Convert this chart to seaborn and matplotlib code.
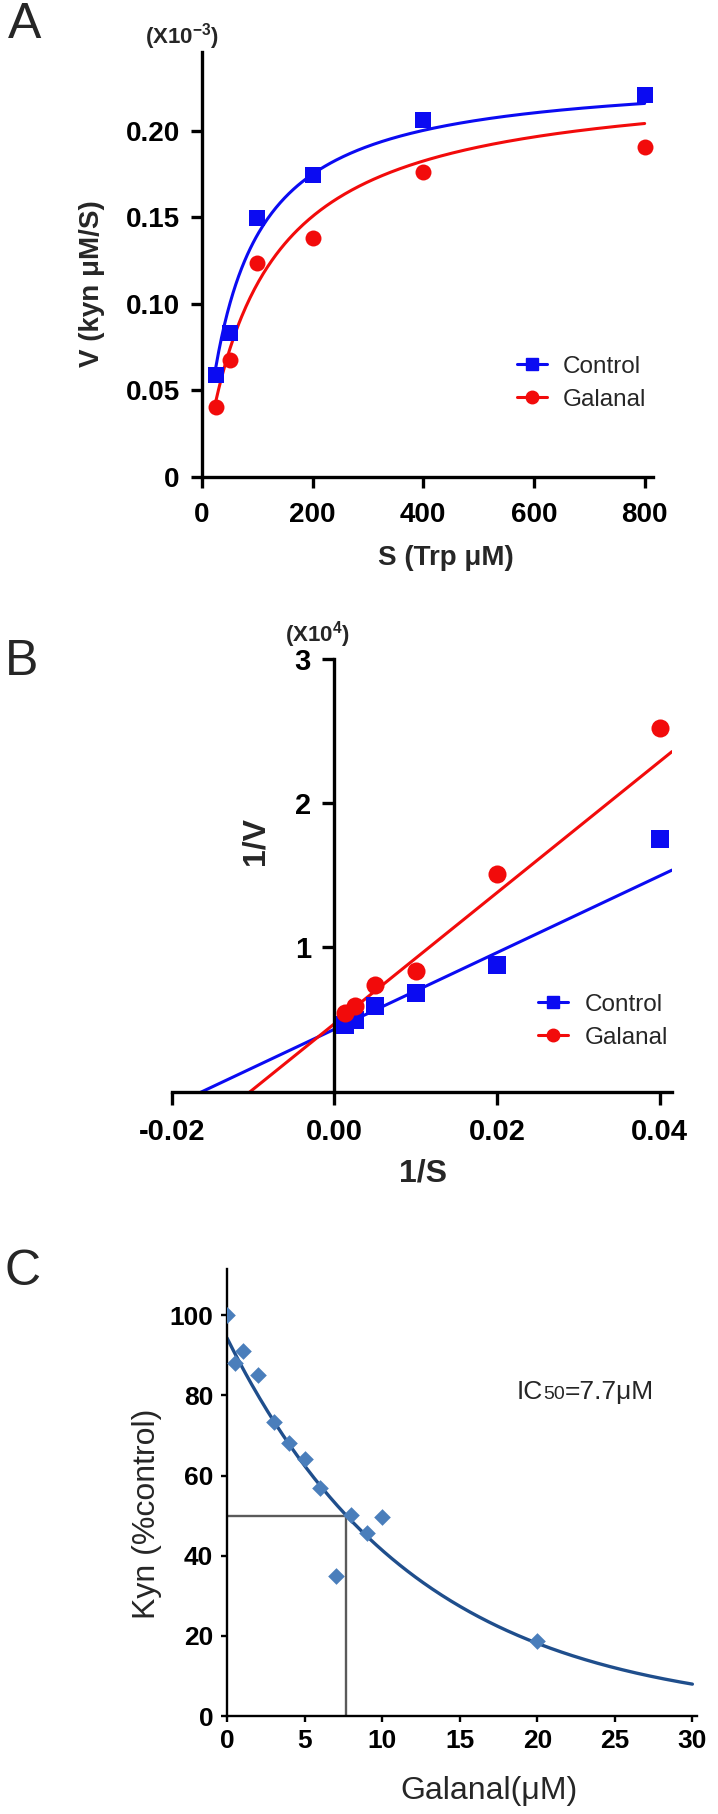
import numpy as np
import pandas as pd
import matplotlib
matplotlib.use("Agg")
import matplotlib.pyplot as plt
import seaborn as sns
from matplotlib.lines import Line2D
from matplotlib.offsetbox import TextArea, HPacker, AnchoredOffsetbox

# ---- panel A: V vs S (Michaelis-Menten) ----
trp_um = [25, 50, 100, 200, 400, 800]
v_control = [0.0587, 0.083, 0.1495, 0.1743, 0.2066, 0.2208]
v_galanal = [0.0403, 0.0675, 0.1238, 0.1384, 0.1765, 0.1905]
vmax_control, km_control = 0.2342, 67.5
vmax_galanal, km_galanal = 0.2319, 107.8
a_xticks = [0, 200, 400, 600, 800]
a_yticks = [0, 0.05, 0.10, 0.15, 0.20]
a_yticklabels = ['0', '0.05', '0.10', '0.15', '0.20']

# ---- panel B: Lineweaver-Burk ----
inv_s = [0.04, 0.02, 0.01, 0.005, 0.0025, 0.00125]
inv_v_control = [1.75, 0.878, 0.683, 0.593, 0.495, 0.459]
inv_v_galanal = [2.52, 1.507, 0.837, 0.739, 0.593, 0.544]
lb_control = (0.4323, 26.57)   # intercept, slope
lb_galanal = (0.4703, 45.44)
b_xticks = [-0.02, 0.0, 0.02, 0.04]
b_xticklabels = ['-0.02', '0.00', '0.02', '0.04']
b_yticks = [1, 2, 3]

# ---- panel C: dose response ----
galanal_um = [0, 0.5, 1, 2, 3, 4, 5, 6, 7, 8, 9, 10, 20]
kyn_pct = [100, 88.0, 91.0, 85.1, 73.4, 68.0, 64.2, 56.9, 35.0, 50.2, 45.7, 49.6, 18.6]
fit_top, fit_rate = 94.3, 0.0824
ic50 = 7.7
c_xticks = [0, 5, 10, 15, 20, 25, 30]
c_yticks = [0, 20, 40, 60, 80, 100]

BLUE = '#0b0bf2'
RED = '#f20b0b'
DIAMOND = '#4a7ebb'
NAVY = '#1f4e8c'

sns.set_theme(style="ticks")
plt.rcParams['font.family'] = ['Liberation Sans', 'DejaVu Sans']
plt.rcParams['mathtext.default'] = 'regular'
plt.rcParams['axes.edgecolor'] = 'black'


def style_axes(ax, lw, tlen, pad_x, pad_y, fs):
    for side in ['top', 'right']:
        ax.spines[side].set_visible(False)
    for side in ['left', 'bottom']:
        ax.spines[side].set_linewidth(lw)
        ax.spines[side].set_color('black')
    ax.tick_params(direction='out', length=tlen, width=lw, colors='black', labelsize=fs)
    ax.tick_params(axis='x', pad=pad_x)
    ax.tick_params(axis='y', pad=pad_y)
    ax.set_facecolor('white')


def kinetics_legend(ax, anchor):
    handles = [Line2D([], [], color=BLUE, marker='s', markersize=8.5, lw=2.2, label='Control'),
               Line2D([], [], color=RED, marker='o', markersize=9, lw=2.2, label='Galanal')]
    ax.legend(handles=handles, loc='center left', bbox_to_anchor=anchor, frameon=False,
              fontsize=17.5, handlelength=1.25, handletextpad=0.66, labelspacing=0.45,
              borderpad=0, borderaxespad=0)


fig = plt.figure(figsize=(7.18, 18.14), dpi=100)

# ================= A =================
axA = fig.add_axes([0.2813, 0.7372, 0.6281, 0.2341])
s_grid = np.linspace(trp_um[0], trp_um[-1], 300)
sns.lineplot(x=s_grid, y=vmax_control * s_grid / (km_control + s_grid), color=BLUE, lw=2.2, ax=axA)
sns.lineplot(x=s_grid, y=vmax_galanal * s_grid / (km_galanal + s_grid), color=RED, lw=2.2, ax=axA)
sns.scatterplot(x=trp_um, y=v_control, marker='s', color=BLUE, s=132, linewidth=0, ax=axA, zorder=3)
sns.scatterplot(x=trp_um, y=v_galanal, marker='o', color=RED, s=132, linewidth=0, ax=axA, zorder=3)
axA.set_xlim(0, 815)
axA.set_ylim(0, 0.2457)
style_axes(axA, 2.4, 8, 10, 8, 20)
axA.set_xticks(a_xticks, [str(t) for t in a_xticks], fontweight='bold')
axA.set_yticks(a_yticks, a_yticklabels, fontweight='bold')
axA.set_xlabel('S (Trp μM)', fontsize=20, fontweight='bold', va='center')
axA.xaxis.set_label_coords(0.541, -0.192)
axA.set_ylabel('V (kyn μM/S)', fontsize=20, fontweight='bold', va='center')
axA.yaxis.set_label_coords(-0.244, 0.454)
kinetics_legend(axA, (0.698, 0.22))
fig.text(25 / 718, 1 - 25 / 1814, 'A', fontsize=36, ha='center', va='center')
fig.text(182 / 718, 1 - 37 / 1814, '(X10$^{-3}$)', fontsize=16, fontweight='bold',
         ha='center', va='center')

# ================= B =================
axB = fig.add_axes([0.2391, 0.3982, 0.6968, 0.2387])
x_line = np.array([-0.02, 0.0415])
sns.lineplot(x=x_line, y=lb_control[0] + lb_control[1] * x_line, color=BLUE, lw=2.2, ax=axB)
sns.lineplot(x=x_line, y=lb_galanal[0] + lb_galanal[1] * x_line, color=RED, lw=2.2, ax=axB)
sns.scatterplot(x=inv_s, y=inv_v_control, marker='s', color=BLUE, s=169, linewidth=0, ax=axB, zorder=3)
sns.scatterplot(x=inv_s, y=inv_v_galanal, marker='o', color=RED, s=169, linewidth=0, ax=axB, zorder=3)
axB.set_xlim(-0.02, 0.0415)
axB.set_ylim(0, 3)
style_axes(axB, 2.4, 9, 10, 8, 21)
axB.spines['left'].set_position(('data', 0))
axB.set_xticks(b_xticks, b_xticklabels, fontweight='bold')
axB.set_yticks(b_yticks, [str(t) for t in b_yticks], fontweight='bold')
axB.set_xlabel('1/S', fontsize=23, fontweight='bold', va='center')
axB.xaxis.set_label_coords(0.502, -0.188)
axB.set_ylabel('1/V', fontsize=23, fontweight='bold', va='center')
axB.yaxis.set_label_coords(0.167, 0.58)
kinetics_legend(axB, (0.732, 0.163))
fig.text(22 / 718, 1 - 662 / 1814, 'B', fontsize=36, ha='center', va='center')
fig.text(317 / 718, 1 - 635 / 1814, '(X10$^{4}$)', fontsize=16, fontweight='bold',
         ha='center', va='center')

# ================= C =================
axC = fig.add_axes([0.3162, 0.0540, 0.6546, 0.2464])
c_grid = np.linspace(0, 30, 300)
sns.lineplot(x=c_grid, y=fit_top * np.exp(-fit_rate * c_grid), color=NAVY, lw=2.4, ax=axC)
axC.plot([0, ic50], [50, 50], color='#5a5a5a', lw=1.7)
axC.plot([ic50, ic50], [0, 50], color='#5a5a5a', lw=1.7)
sns.scatterplot(x=galanal_um, y=kyn_pct, marker='D', color=DIAMOND, s=72, linewidth=0, ax=axC, zorder=3)
axC.set_xlim(0, 30.3)
axC.set_ylim(0, 111.5)
style_axes(axC, 1.7, 4, 5, 6, 19)
axC.set_xticks(c_xticks, [str(t) for t in c_xticks], fontweight='bold')
axC.set_yticks(c_yticks, [str(t) for t in c_yticks], fontweight='bold')
axC.set_xlabel('Galanal(μM)', fontsize=23, va='center')
axC.xaxis.set_label_coords(0.557, -0.168)
axC.set_ylabel('Kyn (%control)', fontsize=23, va='center')
axC.yaxis.set_label_coords(-0.170, 0.452)
ic_box = HPacker(children=[TextArea('IC', textprops=dict(fontsize=19)),
                           TextArea('50', textprops=dict(fontsize=14)),
                           TextArea('=7.7μM', textprops=dict(fontsize=19))],
                 align='baseline', pad=0, sep=0)
axC.add_artist(AnchoredOffsetbox(loc='center left', child=ic_box, pad=0, borderpad=0,
                                 frameon=False, bbox_to_anchor=(0.617, 0.725),
                                 bbox_transform=axC.transAxes))
fig.text(23 / 718, 1 - 1272 / 1814, 'C', fontsize=36, ha='center', va='center')

fig.savefig('out.png', dpi=100, facecolor='white')
